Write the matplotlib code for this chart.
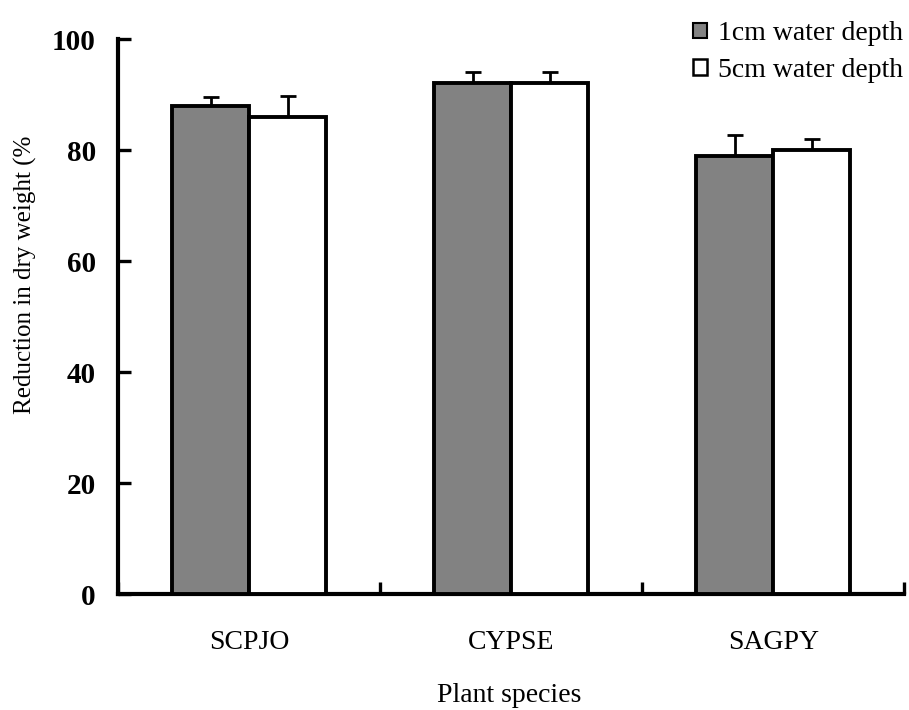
import numpy as np
import matplotlib
matplotlib.use('Agg')
import matplotlib.pyplot as plt
from matplotlib.patches import Patch

plt.rcParams['font.family'] = ['Liberation Serif', 'DejaVu Serif']

species = ['SCPJO', 'CYPSE', 'SAGPY']
depth_1cm = [88, 92, 79]
err_1cm = [1.6, 2.0, 3.7]
depth_5cm = [86, 92, 80]
err_5cm = [3.7, 2.0, 2.0]
series_labels = ['1cm water depth', '5cm water depth']

fig = plt.figure(figsize=(9.09, 7.10), dpi=100)
ax = fig.add_axes([0.130, 0.163, 0.865, 0.782])

x = np.arange(len(species))
w = 0.294
lw = 2.8

ax.bar(x - w / 2, depth_1cm, w, color='#828282', edgecolor='black', linewidth=lw, zorder=3)
ax.bar(x + w / 2, depth_5cm, w, color='white', edgecolor='black', linewidth=lw, zorder=3)

# upper error bars only
ax.errorbar(x - w / 2, depth_1cm, yerr=[np.zeros(3), err_1cm], fmt='none',
            ecolor='black', elinewidth=2, capsize=6, capthick=2, zorder=2)
ax.errorbar(x + w / 2, depth_5cm, yerr=[np.zeros(3), err_5cm], fmt='none',
            ecolor='black', elinewidth=2, capsize=6, capthick=2, zorder=2)

ax.set_xlim(-0.5, 2.5)
ax.set_ylim(0, 100)
ax.set_yticks([0, 20, 40, 60, 80, 100])

ax.spines['top'].set_visible(False)
ax.spines['right'].set_visible(False)
ax.spines['left'].set_linewidth(3)
ax.spines['bottom'].set_linewidth(3)

ax.tick_params(axis='y', direction='in', length=9, width=2.4, pad=16,
               labelsize=21)
for t in ax.get_yticklabels():
    t.set_fontweight('bold')

ax.set_xticks(x)
ax.set_xticklabels(species, fontsize=20)
ax.tick_params(axis='x', which='major', length=0, pad=26)
ax.set_xticks([-0.5, 0.5, 1.5, 2.5], minor=True)
ax.tick_params(axis='x', which='minor', direction='in', length=9, width=2.4)

ax.set_xlabel('Plant species', fontsize=20, va='center')
ax.xaxis.set_label_coords(0.497, -0.182)
ax.set_ylabel('Reduction in dry weight (%', fontsize=18, va='center')
ax.yaxis.set_label_coords(-0.118, 0.575)

handles = [Patch(facecolor='#828282', edgecolor='black', linewidth=1.5),
           Patch(facecolor='white', edgecolor='black', linewidth=1.8)]
ax.legend(handles, series_labels, loc='upper right', bbox_to_anchor=(1.012, 1.052),
          frameon=False, fontsize=20, handlelength=0.5, handleheight=0.5,
          handletextpad=0.4, labelspacing=0.42, borderaxespad=0)

fig.savefig('out.png', dpi=100)
